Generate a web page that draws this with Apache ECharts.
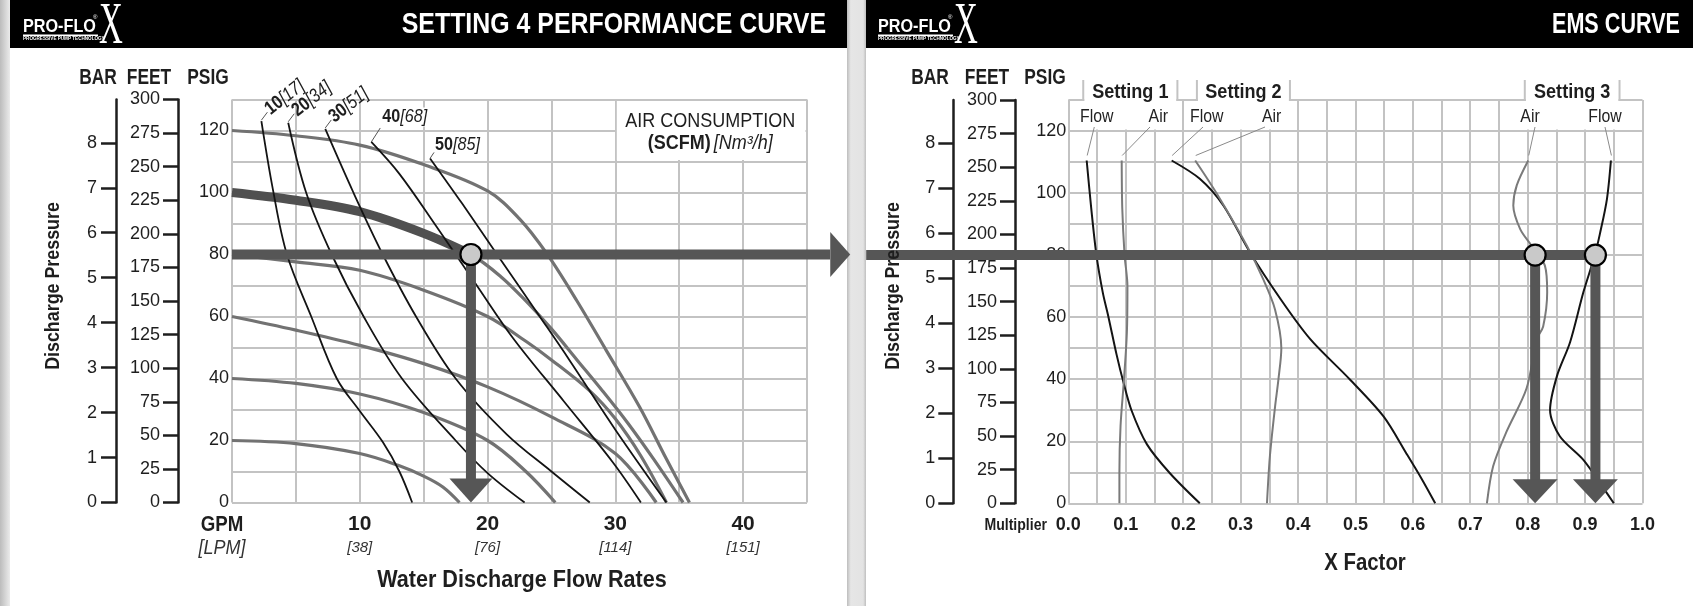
<!DOCTYPE html>
<html><head><meta charset="utf-8">
<script src="https://cdn.jsdelivr.net/npm/echarts@6/dist/echarts.min.js"></script>
<style>html,body{margin:0;padding:0;background:#fff}#c{width:1693px;height:606px}</style>
</head><body><div id="c"></div>
<script>
// ---------- data ----------
const gpmTicks = [10, 20, 30, 40];
const lpmTicks = ['[38]', '[76]', '[114]', '[151]'];
const barTicks = [0, 1, 2, 3, 4, 5, 6, 7, 8];
const feetTicks = [0, 25, 50, 75, 100, 125, 150, 175, 200, 225, 250, 275, 300];
const xFactorTicks = [0, 0.1, 0.2, 0.3, 0.4, 0.5, 0.6, 0.7, 0.8, 0.9, 1.0];

// performance curves: [GPM, PSIG] at inlet air pressures
const psi120 = [[0,120],[5,118.3],[10,115.3],[15,109],[20,100.5],[22.5,91.5],[24.6,80.5],[27,65],[29.3,49],[31.9,30.8],[34,14],[35.8,0]];
const psi100 = [[0,100],[5,97.5],[10,93.8],[15,86.8],[18.7,80],[21,73],[23,65],[25,56],[27,46],[29,36],[31,25.5],[33,14],[35.3,0]];
const psi80  = [[0,80],[5,77.6],[10,74.9],[15,68.5],[20,60],[23,52],[25,46],[28,36],[30,27],[32,15],[34,0]];
const psi60  = [[0,60],[5,55.6],[10,50.7],[15,44.8],[20,37.3],[25,27.6],[30,15.8],[33.2,0]];
const psi40  = [[0,40],[5,38.4],[10,35],[15,29],[20,20],[23,10],[25.3,0]];
const psi20  = [[0,20],[5,19],[10,15.8],[13,12],[15,8.5],[16.5,5],[17.8,0]];
// air consumption lines (SCFM)
const scfm10 = [[2.3,123],[3.2,101],[4.3,80],[6.2,60],[8.2,40],[10,29.5],[11.8,19.5],[13.1,10],[14.1,0]];
const scfm20 = [[4.4,122.5],[5.8,100],[7.8,80],[10.3,60],[13.3,40],[17.5,20],[20,9.5],[22.9,0]];
const scfm30 = [[7.3,120.5],[9.5,100],[11.8,80],[14.4,60],[17.5,40],[21.5,22],[25,10],[28,0]];
const scfm40 = [[10.9,116.3],[13.1,106],[16,89],[19,71],[22,53],[26,32.5],[29.8,13],[32,0]];
const scfm50 = [[15.5,111],[18,96.5],[21,78.5],[24,60.5],[26.4,46],[30,23.5],[34,0]];
const scfmNames = ['10', '20', '30', '40', '50'];
const nm3Names = ['[17]', '[34]', '[51]', '[68]', '[85]'];
const guideLeft = [18.7, 80];

// EMS curves: [X factor, PSIG]
const s1Flow = [[0.032,110.5],[0.04,95],[0.049,80],[0.06,68],[0.07,60],[0.084,48],[0.096,39],[0.11,30],[0.137,19],[0.177,9.7],[0.229,0]];
const s1Air  = [[0.093,110.5],[0.094,95],[0.098,80],[0.103,70],[0.102,55],[0.097,40],[0.091,25],[0.089,10],[0.089,0]];
const s2Flow = [[0.18,110.5],[0.229,104.6],[0.27,96],[0.316,81],[0.369,66],[0.421,53],[0.49,40],[0.549,28],[0.589,16],[0.615,8],[0.639,0]];
const s2Air  = [[0.221,110.5],[0.258,100],[0.311,83],[0.34,72],[0.36,62.5],[0.371,50],[0.366,40],[0.36,31],[0.351,15],[0.346,0]];
const s3Air  = [[0.801,110.5],[0.781,102.5],[0.775,96],[0.787,88.4],[0.807,83],[0.83,76.6],[0.834,68],[0.827,57],[0.816,53],[0.798,37],[0.763,23],[0.74,12],[0.729,0]];
const s3Flow = [[0.945,110.5],[0.938,98],[0.926,87],[0.917,80],[0.897,68],[0.874,52],[0.851,41],[0.839,30],[0.856,21.6],[0.897,14],[0.926,6.5],[0.95,0]];
const guideRightAir = 0.813, guideRightFlow = 0.918, guideRightPsi = 80;

// ---------- chart ----------
const F = "'Liberation Sans',Arial,'Roboto',sans-serif";
const GRID = '#c3c3c3';
const INK = '#1e1e1e';
const GUIDE = '#565656';

function psigAxis(grid, margin, padTop) {
  return { type:'value', gridIndex:grid, min:0, max:130, interval:10, position:'left',
    axisLine:{show:false}, axisTick:{show:false},
    axisLabel:{margin:margin, fontSize:18, color:INK, fontFamily:F, padding:[padTop,0,0,0],
      formatter:v => (v % 20 === 0 && v <= 120) ? String(v) : ''},
    splitLine:{show:true, lineStyle:{color:GRID, width:2}} };
}
function scaleAxis(grid, max, interval, ticks, offset, margin) {
  return { type:'value', gridIndex:grid, min:0, max:max, interval:interval, position:'left', offset:offset,
    axisLine:{show:true, onZero:false, lineStyle:{color:INK, width:2.5}},
    axisTick:{show:true, length:15, customValues:ticks, lineStyle:{color:INK, width:2.5}},
    axisLabel:{customValues:ticks, margin:margin, fontSize:18, color:INK, fontFamily:F, padding:[5,0,0,0],
      formatter:v => ticks.indexOf(Math.round(v*1000)/1000) >= 0 ? String(v) : ''},
    splitLine:{show:false} };
}

const L = (data, xi, yi, color, width, z, extra) => Object.assign({
  type:'line', xAxisIndex:xi, yAxisIndex:yi, data:data, smooth:0.35, symbol:'none',
  lineStyle:{color:color, width:width}, z:z, silent:true}, extra || {});

const barMax = 130 / 14.5038;
const option = {
  animation:false,
  grid:[
    {left:232, top:99.5, width:575, height:403},
    {left:1068.3, top:100, width:574.2, height:403.3}
  ],
  xAxis:[
    { type:'value', gridIndex:0, min:0, max:45, interval:5,
      axisLine:{show:false}, axisTick:{show:false},
      splitLine:{show:true, lineStyle:{color:GRID, width:2}},
      axisLabel:{margin:10, formatter:v => { const i = gpmTicks.indexOf(v); return i < 0 ? '' : '{a|' + v + '}\n{b|' + lpmTicks[i] + '}'; },
        rich:{a:{fontSize:21, fontWeight:'bold', fontFamily:F, color:INK, lineHeight:24},
              b:{fontSize:15, fontStyle:'italic', fontFamily:F, color:'#333', lineHeight:22}}} },
    { type:'value', gridIndex:1, min:0, max:1, interval:0.05,
      axisLine:{show:false}, axisTick:{show:false},
      splitLine:{show:true, lineStyle:{color:GRID, width:2}},
      axisLabel:{margin:13, fontSize:18, fontWeight:'bold', fontFamily:F, color:INK,
        formatter:v => { const r = Math.round(v*100)/100; return xFactorTicks.some(t => Math.abs(t - r) < 1e-6) ? r.toFixed(1) : ''; }} }
  ],
  yAxis:[
    psigAxis(0, 3, 4),
    scaleAxis(0, barMax, 1, barTicks, 116, 19),
    scaleAxis(0, 300, 25, feetTicks, 54, 18),
    psigAxis(1, 2, 8),
    scaleAxis(1, barMax, 1, barTicks, 115, 18),
    scaleAxis(1, 300, 25, feetTicks, 53.3, 18)
  ],
  series:[
    L(psi120, 0, 0, '#727272', 3.2, 3),
    L(psi100, 0, 0, '#727272', 3.2, 3),
    L(psi80,  0, 0, '#727272', 3.2, 3),
    L(psi60,  0, 0, '#727272', 3.2, 3),
    L(psi40,  0, 0, '#727272', 3.2, 3),
    L(psi20,  0, 0, '#727272', 3.2, 3),
    L(psi100.filter(p => p[0] <= guideLeft[0]), 0, 0, '#505050', 9, 4),
    L(scfm10, 0, 0, '#141414', 1.8, 5),
    L(scfm20, 0, 0, '#141414', 1.8, 5),
    L(scfm30, 0, 0, '#141414', 1.8, 5),
    L(scfm40, 0, 0, '#141414', 1.8, 5),
    L(scfm50, 0, 0, '#141414', 1.8, 5),
    // guide: vertical drop + arrowheads + marker (left)
    L([[guideLeft[0], guideLeft[1]], [guideLeft[0], 6]], 0, 0, GUIDE, 10, 6, {smooth:false}),
    {type:'scatter', xAxisIndex:0, yAxisIndex:0, data:[[guideLeft[0], 0]], symbol:'triangle', symbolRotate:180,
      symbolSize:[43, 24], symbolOffset:[0, -12], itemStyle:{color:GUIDE, opacity:1}, z:6, silent:true},
    {type:'scatter', xAxisIndex:0, yAxisIndex:0, data:[[47.6, guideLeft[1]]], symbol:'triangle', symbolRotate:-90,
      symbolSize:[45, 20], itemStyle:{color:GUIDE, opacity:1}, z:6, silent:true, clip:false},
    {type:'scatter', xAxisIndex:0, yAxisIndex:0, data:[guideLeft], symbol:'circle', symbolSize:21,
      itemStyle:{color:'#c9c9c9', borderColor:'#000', borderWidth:2.2, opacity:1}, z:8, silent:true},
    // EMS
    L(s1Flow, 1, 3, '#141414', 2, 5, {smooth:0.3}),
    L(s1Air,  1, 3, '#7a7a7a', 2, 5, {smooth:0.3}),
    L(s2Flow, 1, 3, '#141414', 2, 5, {smooth:0.3}),
    L(s2Air,  1, 3, '#7a7a7a', 2, 5, {smooth:0.3}),
    L(s3Air,  1, 3, '#7a7a7a', 2, 5, {smooth:0.3}),
    L(s3Flow, 1, 3, '#141414', 2, 5, {smooth:0.3}),
    L([[guideRightAir, guideRightPsi], [guideRightAir, 6]], 1, 3, GUIDE, 10, 6, {smooth:false}),
    L([[guideRightFlow, guideRightPsi], [guideRightFlow, 6]], 1, 3, GUIDE, 10, 6, {smooth:false}),
    {type:'scatter', xAxisIndex:1, yAxisIndex:3, data:[[guideRightAir, 0], [guideRightFlow, 0]], symbol:'triangle', symbolRotate:180,
      symbolSize:[45, 24], symbolOffset:[0, -12], itemStyle:{color:GUIDE, opacity:1}, z:6, silent:true},
    {type:'scatter', xAxisIndex:1, yAxisIndex:3, data:[[guideRightAir, guideRightPsi], [guideRightFlow, guideRightPsi]], symbol:'circle', symbolSize:21,
      itemStyle:{color:'#c9c9c9', borderColor:'#000', borderWidth:2.2, opacity:1}, z:8, silent:true}
  ]
};

const chart = echarts.init(document.getElementById('c'), null, {renderer:'canvas'});
chart.setOption(option);

const P0 = (x, y) => chart.convertToPixel({xAxisIndex:0, yAxisIndex:0}, [x, y]);
const P1 = (x, y) => chart.convertToPixel({xAxisIndex:1, yAxisIndex:3}, [x, y]);

const g = [];
const txt = (x, y, text, s, sx, extra) => g.push(Object.assign({type:'text', x:x, y:y, z:20, scaleX:sx || 1,
  style:Object.assign({text:text, fill:INK, fontFamily:F, align:'center', verticalAlign:'middle'}, s)}, extra || {}));
const line = (x1, y1, x2, y2, color, w, z) => g.push({type:'line', z:z || 20, shape:{x1, y1, x2, y2}, style:{stroke:color, lineWidth:w}});
const rect = (x, y, w, h, fill, z) => g.push({type:'rect', z:z, shape:{x, y, width:w, height:h}, style:{fill:fill}});

// background strips & title bars
rect(0, 0, 10, 606, {type:'linear', x:0, y:0, x2:1, y2:0, colorStops:[{offset:0, color:'#bcbcbc'}, {offset:1, color:'#ebebeb'}]}, -5);
rect(847, 0, 19, 606, {type:'linear', x:0, y:0, x2:1, y2:0, colorStops:[{offset:0, color:'#bdbdbd'}, {offset:0.2, color:'#e6e6e6'}, {offset:0.85, color:'#e3e3e3'}, {offset:1, color:'#bfbfbf'}]}, -5);
rect(10, 0, 837, 48, '#000', -4);
rect(866, 0, 827, 48, '#000', -4);

function logo(x0) {
  txt(x0 + 23, 27, 'PRO-FLO', {fill:'#fff', fontWeight:'bold', fontSize:18, align:'left'}, 0.9);
  rect(x0 + 23, 34.5, 75, 1.5, '#fff', 20);
  txt(x0 + 23, 38.5, 'PROGRESSIVE PUMP TECHNOLOGY', {fill:'#fff', fontWeight:'bold', fontSize:4.6, align:'left'});
  txt(x0 + 93, 17, '\u00ae', {fill:'#fff', fontSize:6, align:'left'});
  txt(x0 + 111, 27, 'X', {fill:'#fff', fontFamily:"'Liberation Serif','DejaVu Serif',serif", fontSize:60}, 0.55);
}
logo(0);
logo(855);
txt(826, 25, 'SETTING 4 PERFORMANCE CURVE', {fill:'#fff', fontWeight:'bold', fontSize:30, align:'right'}, 0.83);
txt(1680, 25, 'EMS CURVE', {fill:'#fff', fontWeight:'bold', fontSize:30, align:'right'}, 0.72);

// axis headers
[[98, 149, 208], [930, 987, 1045]].forEach(xs => {
  ['BAR', 'FEET', 'PSIG'].forEach((t, i) => txt(xs[i], 78, t, {fontWeight:'bold', fontSize:22}, 0.79));
});

// horizontal guides (extend past the plot to the arrowhead / from the panel edge)
{
  const a = P0(0, guideLeft[1]), b = P0(46.8, guideLeft[1]);
  line(a[0], a[1], b[0], b[1], GUIDE, 10, 6);
  const c = P1(-0.352, guideRightPsi), d = P1(guideRightFlow, guideRightPsi);
  line(c[0], c[1], d[0], d[1], GUIDE, 10, 6);
}

txt(53, 286, 'Discharge Pressure', {fontWeight:'bold', fontSize:21}, 0.85, {rotation:Math.PI / 2});
txt(893, 286, 'Discharge Pressure', {fontWeight:'bold', fontSize:21}, 0.85, {rotation:Math.PI / 2});

// left x-axis texts
txt(222, 525, 'GPM', {fontWeight:'bold', fontSize:22}, 0.85);
txt(222, 548, '[LPM]', {fontStyle:'italic', fontSize:20, fill:'#333'}, 0.9);
txt(522, 580, 'Water Discharge Flow Rates', {fontWeight:'bold', fontSize:24}, 0.9);

// right x-axis texts
txt(1047, 526, 'Multiplier', {fontWeight:'bold', fontSize:16, align:'right'}, 0.88);
txt(1365, 563, 'X Factor', {fontWeight:'bold', fontSize:24}, 0.85);

// air consumption label box
{
  const a = P0(30, 130), b = P0(45, 110);
  rect(a[0] + 1.5, a[1] + 1.5, b[0] - a[0] - 3, b[1] - a[1] - 3, '#fff', 1);
  txt((a[0] + b[0]) / 2 - 1, 121.7, 'AIR CONSUMPTION', {fontSize:20}, 0.9);
  txt((a[0] + b[0]) / 2 - 1, 143, '{b|(SCFM)} {i|[Nm\u00b3/h]}', {rich:{b:{fontWeight:'bold', fontSize:20, fontFamily:F, fill:INK}, i:{fontStyle:'italic', fontSize:20, fontFamily:F, fill:INK}}}, 0.9);
}

// SCFM line labels
[scfm10, scfm20, scfm30, scfm40, scfm50].forEach((s, i) => {
  const p = P0(s[0][0], s[0][1]);
  const rich = {b:{fontWeight:'bold', fontSize:19, fontFamily:F, fill:INK}, i:{fontStyle:'italic', fontSize:19, fontFamily:F, fill:INK}};
  const t = '{b|' + scfmNames[i] + '}{i|' + nm3Names[i] + '}';
  if (i < 3) {
    line(p[0], p[1] - 1, p[0] + 6, p[1] - 9, '#555', 1);
    g.push({type:'text', x:p[0] + 6, y:p[1] - 10, rotation:38 * Math.PI / 180, scaleX:0.84, z:20,
      style:{text:t, rich:rich, align:'left', verticalAlign:'middle'}});
  } else if (i === 3) {
    line(p[0], p[1], p[0] + 9, p[1] - 14, '#555', 1);
    g.push({type:'text', x:p[0] + 11, y:p[1] - 25, scaleX:0.85, z:20, style:{text:t, rich:rich, align:'left', verticalAlign:'middle', backgroundColor:'#fff'}});
  } else {
    line(p[0], p[1], p[0] + 4, p[1] - 6, '#555', 1);
    g.push({type:'text', x:p[0] + 5, y:p[1] - 14, scaleX:0.85, z:20, style:{text:t, rich:rich, align:'left', verticalAlign:'middle', backgroundColor:'#fff'}});
  }
});

// EMS tabs
const top130 = P1(0, 130)[1], y120 = P1(0, 120)[1];
[['Setting 1', 0.026, 0.19], ['Setting 2', 0.224, 0.386], ['Setting 3', 0.795, 0.96]].forEach(tb => {
  const xl = P1(tb[1], 0)[0], xr = P1(tb[2], 0)[0];
  rect(xl + 1, 70, xr - xl - 2, y120 - 71.5, '#fff', 1);
  line(xl, 80, xl, top130 + 1, GRID, 2, 2);
  line(xr, 80, xr, top130 + 1, GRID, 2, 2);
  txt((xl + xr) / 2, 92, tb[0], {fontWeight:'bold', fontSize:21}, 0.86);
});
// EMS curve labels with leaders
[['Flow', s1Flow, 1096.7, 1094.3], ['Air', s1Air, 1158.3, 1150], ['Flow', s2Flow, 1206.7, 1203],
 ['Air', s2Air, 1271.7, 1265], ['Air', s3Air, 1530, 1535], ['Flow', s3Flow, 1605, 1605]].forEach(d => {
  const p = P1(d[1][0][0], d[1][0][1]);
  txt(d[2], 117, d[0], {fontSize:18, fill:'#222'}, 0.88);
  line(d[3], 127, p[0] + 0.5, p[1] - 5, '#8a8a8a', 1);
});

chart.setOption({graphic:{elements:g}});
</script>
</body></html>
